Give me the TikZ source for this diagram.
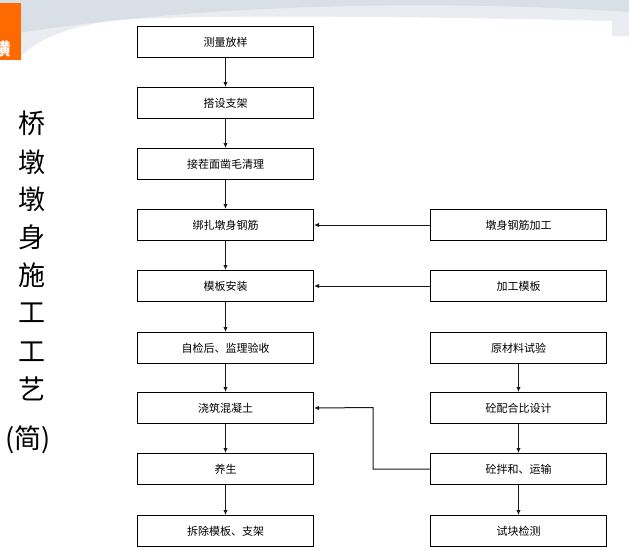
\documentclass[tikz,border=0pt]{standalone}
\usepackage{fontspec}
\newfontfamily\cjk{Noto Sans CJK SC}
\usetikzlibrary{arrows.meta}
\definecolor{bandgrey}{HTML}{D9DFE7}
\definecolor{bandlight}{HTML}{E9EDF2}
\definecolor{tagorange}{HTML}{FF6A00}
\begin{document}
\begin{tikzpicture}[x=1pt,y=-1pt,
  stepbox/.style={draw=black,line width=1pt,fill=white,minimum width=176pt,minimum height=31pt,inner sep=0pt,anchor=north west,font=\cjk\fontsize{11}{11}\selectfont},
  arr/.style={draw=black!90,line width=1pt,-{Latex[length=5pt,width=4.5pt]}},
  titlech/.style={font=\cjk\fontsize{27}{27}\selectfont,inner sep=0pt}]
\useasboundingbox (0,0) rectangle (629,550);
\fill[white] (0,0) rectangle (629,550);
% top background wave
\fill[bandlight] (0,0) -- (629,0) -- (629,36) -- (612,36) -- (612,21) .. controls (450,17) and (200,14) .. (120,20) .. controls (60,26) and (30,45) .. (20,58) -- (0,58) -- cycle;
\fill[bandgrey] (0,0) -- (629,0) -- (629,12) .. controls (450,0) and (200,2) .. (0,36) -- cycle;
% orange tag
\begin{scope}
\clip (0,3) rectangle (21,60);
\fill[tagorange] (0,3) rectangle (21,60);
\node[font=\cjk\bfseries\fontsize{17}{17}\selectfont,text=white,inner sep=0pt] (tag) at (2,49) {横};
\end{scope}
% vertical title
\node[titlech] (t1) at (32,123) {桥};
\node[titlech] (t2) at (32,162) {墩};
\node[titlech] (t3) at (32,199) {墩};
\node[titlech] (t4) at (32,237) {身};
\node[titlech] (t5) at (32,275) {施};
\node[titlech] (t6) at (32,313) {工};
\node[titlech] (t7) at (32,352) {工};
\node[titlech] (t8) at (32,389) {艺};
\node[titlech] (t9) at (28,440) {(简)};
% left column
\node[stepbox] (l1) at (137,26) {测量放样};
\node[stepbox] (l2) at (137,87) {搭设支架};
\node[stepbox] (l3) at (137,148) {接茬面凿毛清理};
\node[stepbox] (l4) at (137,209) {绑扎墩身钢筋};
\node[stepbox] (l5) at (137,270) {模板安装};
\node[stepbox] (l6) at (137,332) {自检后、监理验收};
\node[stepbox] (l7) at (137,392) {浇筑混凝土};
\node[stepbox] (l8) at (137,453) {养生};
\node[stepbox] (l9) at (137,515) {拆除模板、支架};
% right column
\node[stepbox] (r4) at (430,209) {墩身钢筋加工};
\node[stepbox] (r5) at (430,270) {加工模板};
\node[stepbox] (r6) at (430,332) {原材料试验};
\node[stepbox] (r7) at (430,392) {砼配合比设计};
\node[stepbox] (r8) at (430,453) {砼拌和、运输};
\node[stepbox] (r9) at (430,515) {试块检测};
% connectors
\draw[arr] (l1) -- (l2);
\draw[arr] (l2) -- (l3);
\draw[arr] (l3) -- (l4);
\draw[arr] (l4) -- (l5);
\draw[arr] (l5) -- (l6);
\draw[arr] (l6) -- (l7);
\draw[arr] (l7) -- (l8);
\draw[arr] (l8) -- (l9);
\draw[arr] (r4) -- (l4);
\draw[arr] (r5) -- (l5);
\draw[arr] (r6) -- (r7);
\draw[arr] (r7) -- (r8);
\draw[arr] (r8) -- (r9);
\coordinate (elb) at (373,407.5);
\draw[arr] (r8.west) -| (elb) -- (l7.east);
\end{tikzpicture}
\end{document}
